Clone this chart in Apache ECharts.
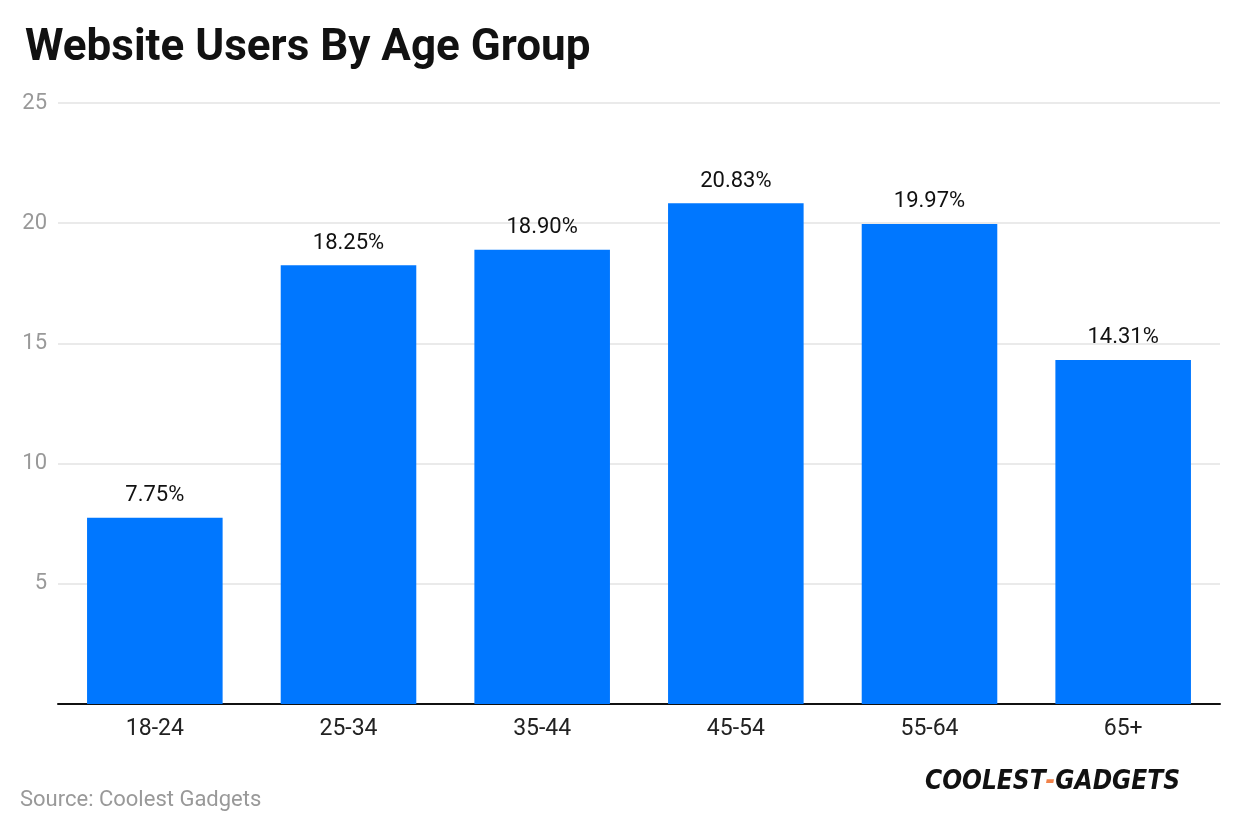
<!DOCTYPE html>
<html>
<head>
<meta charset="utf-8">
<script src="https://cdn.jsdelivr.net/npm/echarts@6/dist/echarts.min.js"></script>
<style>
  html, body { margin: 0; padding: 0; background: #fff; }
  #main { width: 1240px; height: 834px; }
</style>
</head>
<body>
<div id="main"></div>
<script>
// chart data
var ageGroups = ['18-24', '25-34', '35-44', '45-54', '55-64', '65+'];
var userShare = [7.75, 18.25, 18.90, 20.83, 19.97, 14.31];
var yTicks = [0, 5, 10, 15, 20, 25];

var chart = echarts.init(document.getElementById('main'), null, { width: 1240, height: 834 });

var option = {
  backgroundColor: '#ffffff',
  animation: false,
  title: {
    text: 'Website Users By Age Group',
    left: 20,
    top: 22,
    textStyle: { fontFamily: 'Roboto', fontWeight: 'bold', fontSize: 44, color: '#111' }
  },
  grid: { left: 58, right: 20, top: 103, bottom: 130 },
  xAxis: {
    type: 'category',
    data: ageGroups,
    axisTick: { show: false },
    axisLine: { lineStyle: { color: '#111', width: 2 } },
    axisLabel: { fontFamily: 'Roboto', fontSize: 23, color: '#222', margin: 14 }
  },
  yAxis: {
    type: 'value',
    min: yTicks[0],
    max: yTicks[yTicks.length - 1],
    interval: 5,
    axisLine: { show: false },
    axisTick: { show: false },
    splitLine: { lineStyle: { color: '#e3e3e3', width: 1.5 } },
    axisLabel: {
      fontFamily: 'Roboto', fontSize: 22, color: '#999', margin: 11,
      formatter: function (v) { return v === 0 ? '' : v; }
    }
  },
  series: [{
    type: 'bar',
    data: userShare,
    barCategoryGap: '30%',
    itemStyle: { color: '#0077ff' },
    label: {
      show: true,
      position: 'top',
      distance: 11,
      fontFamily: 'Roboto', fontSize: 22, color: '#111',
      formatter: function (p) { return p.value.toFixed(2) + '%'; }
    }
  }],
  graphic: [
    {
      type: 'text', left: 20, top: 789,
      style: { text: 'Source: Coolest Gadgets', font: '22px Roboto', fill: '#999' }
    },
    {
      type: 'text', left: 925, top: 769,
      style: {
        text: '{a|COOLEST}{b|-}{a|GADGETS}',
        rich: {
          a: { font: 'italic 900 26px "DejaVu Sans Condensed", "DejaVu Sans"', fill: '#111' },
          b: { font: 'italic 900 26px "DejaVu Sans Condensed", "DejaVu Sans"', fill: '#f0824a' }
        }
      }
    }
  ]
};

chart.setOption(option);
</script>
</body>
</html>
